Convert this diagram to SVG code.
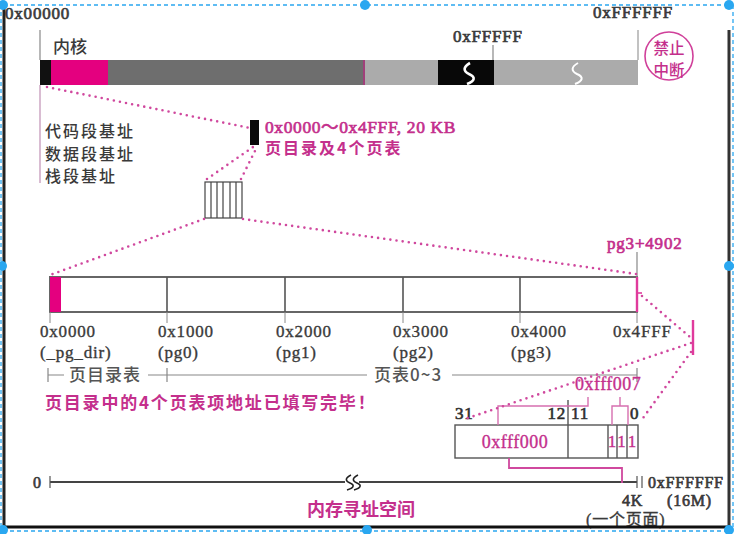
<svg xmlns="http://www.w3.org/2000/svg" width="736" height="534" viewBox="0 0 736 534">
<style>
.num{font-family:"Liberation Serif","Noto Sans CJK SC",serif;font-size:17px;fill:#3a3a3a;stroke:#3a3a3a;stroke-width:0.35;letter-spacing:0.8px}
.b{stroke-width:0.65}
.cn{font-family:"Noto Sans CJK SC","Liberation Sans",sans-serif;font-size:16px;fill:#3a3a3a;font-weight:500}
.mg{fill:#c42f8c;stroke:#c42f8c}
.cn.mg{stroke:none}
.mgb{font-weight:700}
.dot{fill:none;stroke:#d0489e;stroke-width:2.6;stroke-linecap:round;stroke-dasharray:0 6.2}
.pk{fill:none;stroke:#d66fb0;stroke-width:1.4}
.box{fill:#fff;stroke:#555;stroke-width:1.4}
</style>
<rect width="736" height="534" fill="#fff"/>

<g id="top-bar">
  <line x1="40" y1="30" x2="40" y2="60" stroke="#888" stroke-width="1.2"/>
  <line x1="40" y1="85" x2="40" y2="183" stroke="#c9a0bf" stroke-width="1.4"/>
  <rect x="40" y="60" width="11" height="25" fill="#111"/>
  <rect x="51" y="60" width="57" height="25" fill="#e4007f"/>
  <rect x="108" y="60" width="255" height="25" fill="#6e6e6e"/>
  <rect x="363" y="60" width="2" height="25" fill="#a0407a"/>
  <rect x="365" y="60" width="73" height="25" fill="#ababab"/>
  <rect x="438" y="60" width="56" height="25" fill="#080808"/>
  <rect x="494" y="60" width="144" height="25" fill="#ababab"/>
  <path d="M470 63 c-7 4 -7 8 -1 11 c7 3 6 7 -2 10" fill="none" stroke="#fff" stroke-width="2.6"/>
  <path d="M578 63 c-7 4 -7 8 -1 11 c7 3 6 7 -2 10" fill="none" stroke="#fff" stroke-width="2"/>
  <line x1="493" y1="45" x2="493" y2="60" stroke="#888" stroke-width="1.2"/>
  <line x1="638" y1="30" x2="638" y2="60" stroke="#999" stroke-width="1.2"/>
  <text class="num b" x="5" y="19">0x00000</text>
  <text class="cn" x="53" y="53" style="font-size:17px">内核</text>
  <text class="num b" x="453" y="42">0xFFFFF</text>
  <text class="num b" x="593" y="18">0xFFFFFF</text>
</g>

<g id="stamp">
  <circle cx="669" cy="56" r="24" fill="none" stroke="#d0409a" stroke-width="1.6"/>
  <text class="cn mg" x="669" y="54" text-anchor="middle" style="font-size:15.5px">禁止</text>
  <text class="cn mg" x="669" y="76" text-anchor="middle" style="font-size:15.5px">中断</text>
</g>

<g id="seg-labels">
  <text class="cn" x="45" y="137" style="letter-spacing:2px">代码段基址</text>
  <text class="cn" x="45" y="160" style="letter-spacing:2px">数据段基址</text>
  <text class="cn" x="45" y="182" style="letter-spacing:2px">栈段基址</text>
</g>

<g id="small-block">
  <rect x="250" y="120" width="9" height="25" fill="#0a0a0a"/>
  <text class="num mg b" x="265" y="133" style="font-size:17.5px;letter-spacing:0.6px">0x0000～0x4FFF, 20 KB</text>
  <text class="cn mg mgb" x="265" y="154" style="font-size:16px;letter-spacing:2px">页目录及4个页表</text>
</g>

<g id="grid-box">
  <rect x="205" y="182" width="37" height="36" fill="#fff" stroke="#444" stroke-width="1.2"/>
  <path d="M211 182V218M217 182V218M223 182V218M230 182V218M236 182V218" stroke="#444" stroke-width="1.2"/>
</g>

<g id="mid-bar">
  <rect x="50" y="277" width="587" height="35" fill="#fff" stroke="#666" stroke-width="2"/>
  <rect x="50" y="277" width="11" height="35" fill="#e4007f"/>
  <path d="M167 277V312M285 277V312M403 277V312M520 277V312" stroke="#555" stroke-width="1.6"/>
  <path d="M50 312V323M167 312V323M285 312V323M403 312V323M520 312V323M637 312V323" stroke="#888" stroke-width="1"/>
  <line x1="637" y1="252" x2="637" y2="277" stroke="#888" stroke-width="1.2"/>
  <line x1="637" y1="277" x2="637" y2="312" stroke="#e03a9c" stroke-width="2.4"/>
  <line x1="637" y1="293" x2="642" y2="293" stroke="#e03a9c" stroke-width="1.6"/>
  <text class="num mg b" x="607" y="249">pg3+4902</text>
  <text class="num" x="40" y="337">0x0000</text>
  <text class="num" x="40" y="358">(_pg_dir)</text>
  <text class="num" x="158" y="337">0x1000</text>
  <text class="num" x="158" y="358">(pg0)</text>
  <text class="num" x="276" y="337">0x2000</text>
  <text class="num" x="276" y="358">(pg1)</text>
  <text class="num" x="393" y="337">0x3000</text>
  <text class="num" x="393" y="358">(pg2)</text>
  <text class="num" x="511" y="337">0x4000</text>
  <text class="num" x="511" y="358">(pg3)</text>
  <text class="num" x="613" y="337">0x4FFF</text>
</g>

<g id="range-scale">
  <path d="M48 368V382M48 375H64M148 375H367M167 368V382M452 375H637M637 368V382" stroke="#888" stroke-width="1.2" fill="none"/>
  <text class="cn" x="69" y="381" style="fill:#555;font-size:17px;letter-spacing:1px">页目录表</text>
  <text class="cn" x="374" y="381" style="fill:#555;font-size:17px;letter-spacing:1px">页表0~3</text>
  <text class="cn mg mgb" x="45" y="409" style="font-size:17px;letter-spacing:1.8px">页目录中的4个页表项地址已填写完毕！</text>
</g>

<g id="pte-marker">
  <line x1="693" y1="320" x2="693" y2="355" stroke="#e03a9c" stroke-width="2.4"/>
</g>

<g id="pte">
  <rect x="455" y="425" width="183" height="33" class="box"/>
  <path d="M568 400V458M608 425V458M617 425V458M627 425V458" stroke="#555" stroke-width="1.4"/>
  <text class="num mg" x="515" y="448" text-anchor="middle" style="font-size:18px;letter-spacing:0.5px">0xfff000</text>
  <text class="num mg" x="612.5" y="447" text-anchor="middle">1</text>
  <text class="num mg" x="622" y="447" text-anchor="middle">1</text>
  <text class="num mg" x="632.5" y="447" text-anchor="middle">1</text>
  <text class="num b" x="455" y="419" style="fill:#222">31</text>
  <text class="num b" x="566" y="419" text-anchor="end" style="fill:#222">12</text>
  <text class="num b" x="571" y="419" style="fill:#222">11</text>
  <text class="num b" x="630" y="419" style="fill:#222">0</text>
  <path d="M498 425V406H588V397M612 425V406H628V425M620 406V397" class="pk"/>
  <text class="num mg" x="575" y="390" style="font-size:18px;letter-spacing:0.5px">0xfff007</text>
</g>

<g id="addr-line">
  <line x1="50" y1="482" x2="637" y2="482" stroke="#444" stroke-width="2.2"/>
  <rect x="345" y="476" width="14" height="12" fill="#fff"/>
  <path d="M351 475 c-6 3 -6 6 -1 8 c5 2 4 5 -3 7M358 475 c-6 3 -6 6 -1 8 c5 2 4 5 -3 7" fill="none" stroke="#222" stroke-width="1.6"/>
  <path d="M50 476V488M637 476V488M642 476V488" stroke="#555" stroke-width="1.2"/>
  <text class="num b" x="33" y="488" style="font-size:16px">0</text>
  <text class="num b" x="648" y="488" style="font-size:16px">0xFFFFFF</text>
  <text class="num b" x="622" y="506" style="font-size:16px">4K</text>
  <text class="num b" x="667" y="506" style="font-size:16px">(16M)</text>
  <text class="num" x="586" y="525" style="font-size:16px">(一个页面)</text>
  <text class="cn mg mgb" x="307" y="516" style="font-size:18px">内存寻址空间</text>
</g>

<g id="connectors">
  <path class="dot" d="M47 87L250 128"/>
  <path class="dot" d="M207 179L253 147"/>
  <path class="dot" d="M241 179L257 147"/>
  <path class="dot" d="M204 219L50 275"/>
  <path class="dot" d="M243 219L636 274"/>
  <path class="dot" d="M642 296L690 337"/>
  <path class="dot" d="M691 343L462 420"/>
  <path class="dot" d="M691 352L643 418"/>
  <path d="M509 458V468H622V483" fill="none" stroke="#d0489e" stroke-width="1.8"/>
</g>

<g id="frame">
  <line x1="4" y1="5" x2="4" y2="528" stroke="#222" stroke-width="3"/>
  <line x1="729" y1="30" x2="729" y2="528" stroke="#333" stroke-width="3"/>
  <line x1="4" y1="527" x2="729" y2="527" stroke="#111" stroke-width="3"/>
  <g fill="none" stroke="#2aa7f0" stroke-width="1.3" stroke-dasharray="4 3">
    <line x1="3" y1="5" x2="729" y2="5"/>
    <line x1="1" y1="5" x2="1" y2="530"/>
    <line x1="733" y1="5" x2="733" y2="530"/>
    <line x1="3" y1="531" x2="733" y2="531"/>
  </g>
  <g fill="#2aa7f0">
    <circle cx="3" cy="5" r="5"/><circle cx="365" cy="5" r="5"/><circle cx="729" cy="5" r="5"/>
    <circle cx="2" cy="266" r="5"/><circle cx="729" cy="266" r="5"/>
    <circle cx="3" cy="530" r="5"/><circle cx="367" cy="530" r="5"/><circle cx="729" cy="530" r="5"/>
  </g>
</g>
</svg>
